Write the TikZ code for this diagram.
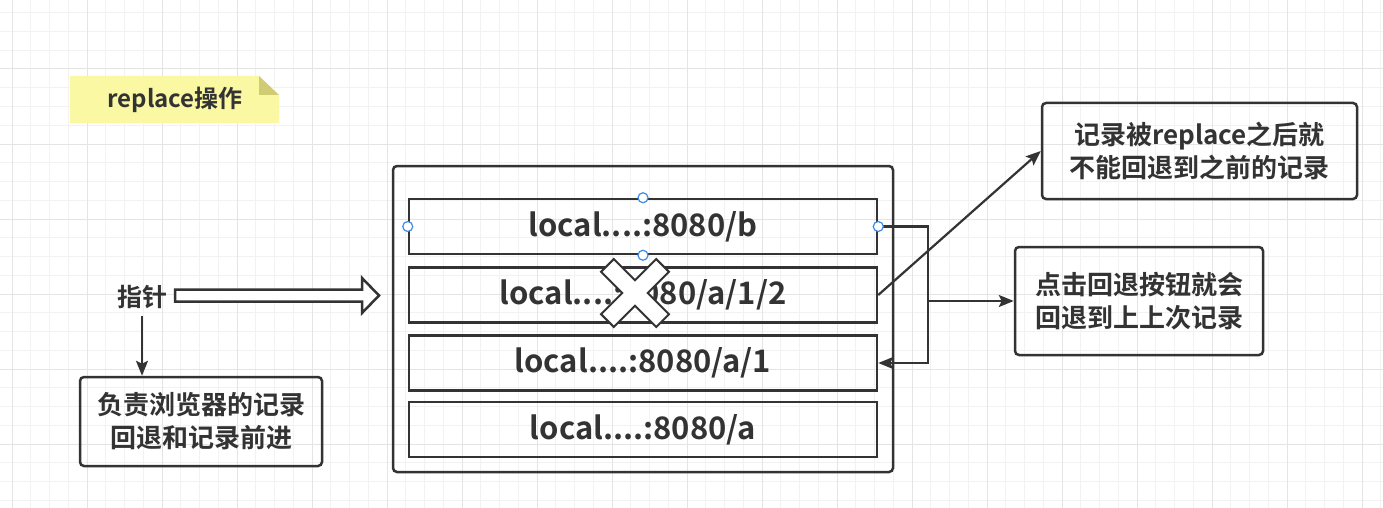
\documentclass[tikz,border=0pt]{standalone}
\usepackage{fontspec}
\setmainfont{Noto Sans CJK SC}[BoldFont={* Bold}]
\usetikzlibrary{arrows.meta}

\definecolor{ink}{HTML}{333333}
\definecolor{notefill}{HTML}{FAF8A2}
\definecolor{notefold}{HTML}{CFCC74}
\definecolor{handleblue}{HTML}{3D8BE8}
\definecolor{gridminor}{HTML}{F2F2F2}
\definecolor{gridmajor}{HTML}{E4E4E4}

\tikzset{
  urlbox/.style={draw=ink, line width=2.5pt, minimum width=468pt, minimum height=55pt,
    font=\bfseries\fontsize{31}{36}\selectfont, text=ink},
  textbox/.style={draw=ink, line width=2.5pt, rounded corners=4pt, align=center,
    font=\bfseries\fontsize{26}{33}\selectfont, text=ink},
  link/.style={draw=ink, line width=2.2pt, -{Stealth[length=15pt,width=12pt,inset=3pt]}},
  handle/.style={circle, draw=handleblue, fill=white, line width=1.2pt, minimum size=10pt, inner sep=0pt},
}

\begin{document}
\begin{tikzpicture}[x=1pt, y=-1pt]
        \useasboundingbox[fill=white] (0,0) rectangle (1383,508);
        % grid
        \foreach \x in {12,30.75,...,1383} \draw[gridminor, line width=1pt] (\x,0) -- (\x,508);
        \foreach \y in {12.75,31.5,...,508} \draw[gridminor, line width=1pt] (0,\y) -- (1383,\y);
        \foreach \x in {12,87,...,1383} \draw[gridmajor, line width=1pt] (\x,0) -- (\x,508);
        \foreach \y in {69,144,...,508} \draw[gridmajor, line width=1pt] (0,\y) -- (1383,\y);

        % note
        \fill[notefill] (70,76) -- (259,76) -- (279,95) -- (279,123) -- (70,123) -- cycle;
        \fill[notefold] (259,76) -- (259,95) -- (279,95) -- cycle;
        \node[font=\bfseries\fontsize{24}{28}\selectfont, text=ink] (title) at (175,100) {replace操作};

        % history stack
        \node[draw=ink, line width=2.5pt, rounded corners=4pt, minimum width=500pt, minimum height=306pt] (browser) at (643,319) {};
        \node[urlbox] (u1) at (643,226.5) {local....:8080/b};
        \node[urlbox] (u2) at (643,295) {local....:8080/a/1/2};
        \node[urlbox] (u3) at (643,363) {local....:8080/a/1};
        \node[urlbox] (u4) at (643,429.5) {local....:8080/a};

        \draw[ink, line width=2pt, fill=white, shift={(635,293)}, rotate=45]
            (39,9) -- (9,9) -- (9,39) -- (-9,39) -- (-9,9) -- (-39,9) -- (-39,-9)
            -- (-9,-9) -- (-9,-39) -- (9,-39) -- (9,-9) -- (39,-9) -- cycle;

        % pointer
        \node[font=\bfseries\fontsize{25}{30}\selectfont, text=ink, inner sep=7pt] (ptr) at (142,297) {指针};
        \node[textbox, minimum width=242pt, minimum height=89pt] (duty) at (201,421.5) {负责浏览器的记录\\回退和记录前进};
        \draw[ink, line width=2.5pt, fill=white] (175,289.5) -- (362,289.5) -- (362,278) -- (379,295.5)
            -- (362,313) -- (362,301.5) -- (175,301.5) -- cycle;
        \path[link] (ptr.south) -- (ptr.south |- duty.north);

        % notes on the right
        \node[textbox, minimum width=315pt, minimum height=96pt] (gone) at (1199.5,151) {记录被replace之后就\\不能回退到之前的记录};
        \node[textbox, minimum width=248pt, minimum height=108pt] (back) at (1139,301) {点击回退按钮就会\\回退到上上次记录};

        \coordinate (elbow) at ([xshift=50pt]u1.east);
        \path[link] (u1.east) -- (elbow) |- (u3.east);
        \path[link] (elbow |- back.west) -- (back.west);
        \path[link] (u2.east) -- (gone.west);

        \foreach \a in {north,south,east,west} \node[handle] at (u1.\a) {};
    \end{tikzpicture}
\end{document}
